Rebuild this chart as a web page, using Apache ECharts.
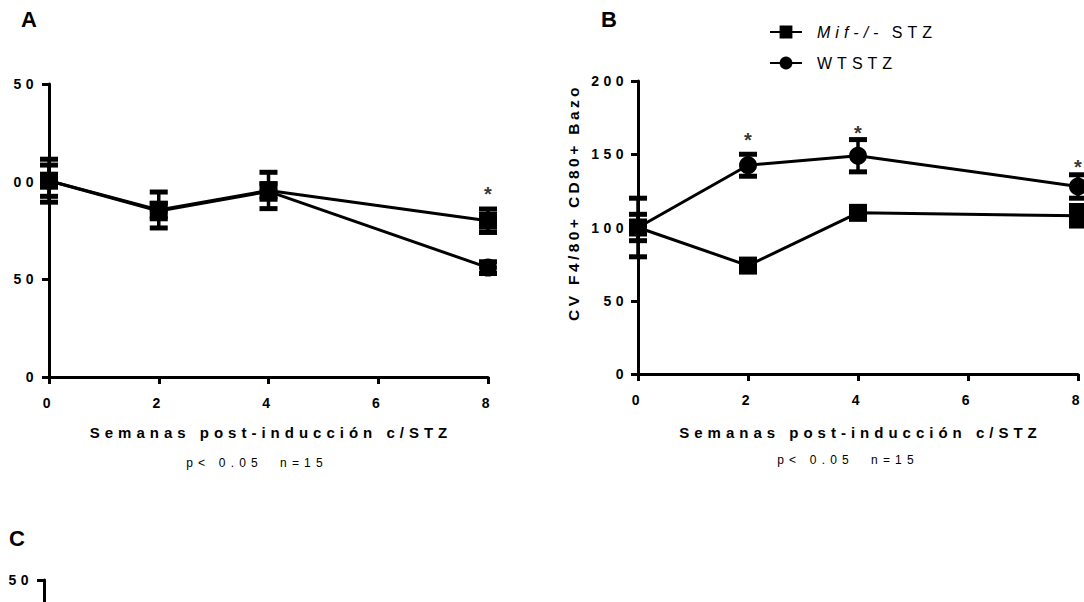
<!DOCTYPE html>
<html>
<head>
<meta charset="utf-8">
<script src="https://cdn.jsdelivr.net/npm/echarts@6/dist/echarts.min.js"></script>
<style>
  html, body { margin: 0; padding: 0; background: #fff; }
  #main { width: 1084px; height: 602px; }
  /* the figure's text is widely letter-spaced; pick the roles by font size */
  #main text[style*="14px"] { letter-spacing: 4.5px; }   /* tick labels */
  #main text[style*="15px"] { letter-spacing: 5px; }     /* x axis title */
  #main text[style*="15.5px"] { letter-spacing: 3.4px; } /* y axis title */
  #main text[style*="16px"] { letter-spacing: 5px; }     /* legend */
  #main text[style*="12px"] { letter-spacing: 5.2px; }   /* p / n note */
</style>
</head>
<body>
<div id="main"></div>
<script>
var chartDom = document.getElementById('main');
var myChart = echarts.init(chartDom, null, { renderer: 'svg' });
var option;

// semanas post-induccion
var weeks = [0, 2, 4, 8];

// panel A
var mifA = [100.5, 85.5, 95.5, 80];
var mifAErr = [11, 9.2, 9.3, 6];
var wtA = [100.5, 85, 95, 56];
var wtAErr = [8, 4, 4, 3];
var starsA = [[8, 93.5]];

// panel B (CV F4/80+ CD80+ Bazo)
var mifB = [100, 74, 110, 108];
var mifBErr = [9, 3, 3, 7];
var wtB = [100, 142.5, 149, 128];
var wtBErr = [20, 7.5, 11, 8];
var starsB = [[2, 160], [4, 164.5], [8, 141]];

// ticks (panel A and C labels are cut off on the left in the figure)
var yTicksA = [0, 50, 100, 150];
var yLabelsA = ['0', '50', '00', '50'];
var yTicksC = [0, 50, 100, 150];
var yLabelsC = ['', '', '', '50'];

var FONT = 'Liberation Sans';
var names = ['Mif-/- STZ', 'WTSTZ'];
var note = 'p< 0.05  n=15';

function pairs(xs, ys) {
    return xs.map(function (x, i) { return [x, ys[i]]; });
}
function bars(xs, ys, err) {
    return xs.map(function (x, i) { return [x, ys[i] - err[i], ys[i] + err[i]]; });
}

function errorBar(params, api) {
    var x = api.value(0);
    var lo = api.coord([x, api.value(1)]);
    var hi = api.coord([x, api.value(2)]);
    var half = 9;
    return {
        type: 'group',
        children: [
            { type: 'line', shape: { x1: hi[0], y1: hi[1], x2: lo[0], y2: lo[1] }, style: { stroke: '#000', lineWidth: 3.5 } },
            { type: 'line', shape: { x1: hi[0] - half, y1: hi[1], x2: hi[0] + half, y2: hi[1] }, style: { stroke: '#000', lineWidth: 5 } },
            { type: 'line', shape: { x1: lo[0] - half, y1: lo[1], x2: lo[0] + half, y2: lo[1] }, style: { stroke: '#000', lineWidth: 5 } }
        ]
    };
}

function xAxisOf(idx, gap) {
    return {
        gridIndex: idx,
        type: 'value',
        min: 0, max: 8, interval: 2,
        name: 'Semanas post-inducción c/STZ',
        nameLocation: 'middle',
        nameGap: gap,
        nameTextStyle: { color: '#000', fontSize: 15, fontWeight: 'bold', fontFamily: FONT, padding: [0, 0, 0, 5] },
        axisLine: { show: true, lineStyle: { color: '#000', width: 3 } },
        axisTick: { show: true, length: 7, lineStyle: { color: '#000', width: 3 } },
        axisLabel: { color: '#000', fontSize: 14, fontWeight: 'bold', fontFamily: FONT, margin: 19 },
        splitLine: { show: false }
    };
}

function yAxisOf(idx, max, extra) {
    var ax = {
        gridIndex: idx,
        type: 'value',
        min: 0, max: max, interval: 50,
        axisLine: { show: true, lineStyle: { color: '#000', width: 3 } },
        axisTick: { show: true, length: 7, lineStyle: { color: '#000', width: 3 } },
        axisLabel: { color: '#000', fontSize: 14, fontWeight: 'bold', fontFamily: FONT, margin: 10 },
        splitLine: { show: false }
    };
    return Object.assign(ax, extra || {});
}

function lineSeries(name, idx, data, symbol, size) {
    return {
        name: name,
        type: 'line',
        xAxisIndex: idx, yAxisIndex: idx,
        data: data,
        symbol: symbol,
        symbolSize: size,
        lineStyle: { color: '#000', width: 3 },
        itemStyle: { color: '#000' },
        z: 3
    };
}

function barSeries(idx, data) {
    return {
        type: 'custom',
        xAxisIndex: idx, yAxisIndex: idx,
        renderItem: errorBar,
        data: data,
        z: 2
    };
}

function starSeries(idx, data) {
    return {
        type: 'scatter',
        xAxisIndex: idx, yAxisIndex: idx,
        data: data,
        symbolSize: 0,
        label: {
            show: true, formatter: '*', position: 'inside',
            color: '#000', fontSize: 20, fontWeight: 'bold', fontFamily: FONT
        },
        z: 4
    };
}

option = {
    animation: false,
    backgroundColor: '#fff',
    title: [
        { text: 'A', left: 21, top: 8, padding: 0, textStyle: { fontSize: 22, fontWeight: 'bold', color: '#000', fontFamily: FONT } },
        { text: 'B', left: 601, top: 8, padding: 0, textStyle: { fontSize: 22, fontWeight: 'bold', color: '#000', fontFamily: FONT } },
        { text: 'C', left: 9, top: 527, padding: 0, textStyle: { fontSize: 22, fontWeight: 'bold', color: '#000', fontFamily: FONT } },
        { text: note, left: 257, top: 457, textAlign: 'center', padding: 0, textStyle: { fontSize: 12, fontWeight: 'normal', color: '#000', fontFamily: FONT } },
        { text: note, left: 848, top: 454, textAlign: 'center', padding: 0, textStyle: { fontSize: 12, fontWeight: 'normal', color: '#000', fontFamily: FONT } }
    ],
    legend: {
        data: names,
        orient: 'vertical',
        left: 769, top: 24,
        itemWidth: 32, itemHeight: 16, itemGap: 15,
        padding: 0,
        formatter: function (name) {
            return name === 'Mif-/- STZ' ? '{i|Mif-/-}{r| STZ}' : name;
        },
        textStyle: {
            color: '#000', fontSize: 16, fontFamily: FONT, padding: [0, 0, 0, 10],
            rich: {
                i: { fontStyle: 'italic', fontSize: 16, fontFamily: FONT, color: '#000', padding: [0, 29, 0, 0] },
                r: { fontSize: 16, fontFamily: FONT, color: '#000' }
            }
        }
    },
    grid: [
        { left: 49, top: 84, width: 439, height: 293, outerBoundsMode: 'none' },
        { left: 638, top: 81, width: 440, height: 293, outerBoundsMode: 'none' },
        { left: 44, top: 580, width: 440, height: 300, outerBoundsMode: 'none' }
    ],
    xAxis: [
        xAxisOf(0, 48),
        xAxisOf(1, 51),
        { gridIndex: 2, type: 'value', min: 0, max: 8, show: false }
    ],
    yAxis: [
        yAxisOf(0, 150, {
            axisLabel: {
                color: '#000', fontSize: 14, fontWeight: 'bold', fontFamily: FONT, margin: 11,
                formatter: function (v) { return yLabelsA[yTicksA.indexOf(v)]; }
            }
        }),
        yAxisOf(1, 200, {
            name: 'CV F4/80+ CD80+ Bazo',
            nameLocation: 'middle',
            nameGap: 57,
            nameTextStyle: { color: '#000', fontSize: 15.5, fontWeight: 'bold', fontFamily: FONT, padding: [0, 0, 0, 50] }
        }),
        yAxisOf(2, 150, {
            axisLabel: {
                color: '#000', fontSize: 14, fontWeight: 'bold', fontFamily: FONT, margin: 11,
                formatter: function (v) { return yLabelsC[yTicksC.indexOf(v)]; }
            }
        })
    ],
    series: [
        barSeries(0, bars(weeks, mifA, mifAErr)),
        barSeries(0, bars(weeks, wtA, wtAErr)),
        lineSeries(names[0], 0, pairs(weeks, mifA), 'rect', 18),
        lineSeries(names[1], 0, pairs(weeks, wtA), 'circle', 18),
        starSeries(0, starsA),

        barSeries(1, bars(weeks, mifB, mifBErr)),
        barSeries(1, bars(weeks, wtB, wtBErr)),
        lineSeries(names[0], 1, pairs(weeks, mifB), 'rect', 18),
        lineSeries(names[1], 1, pairs(weeks, wtB), 'circle', 18),
        starSeries(1, starsB)
    ]
};

option && myChart.setOption(option);
</script>
</body>
</html>
